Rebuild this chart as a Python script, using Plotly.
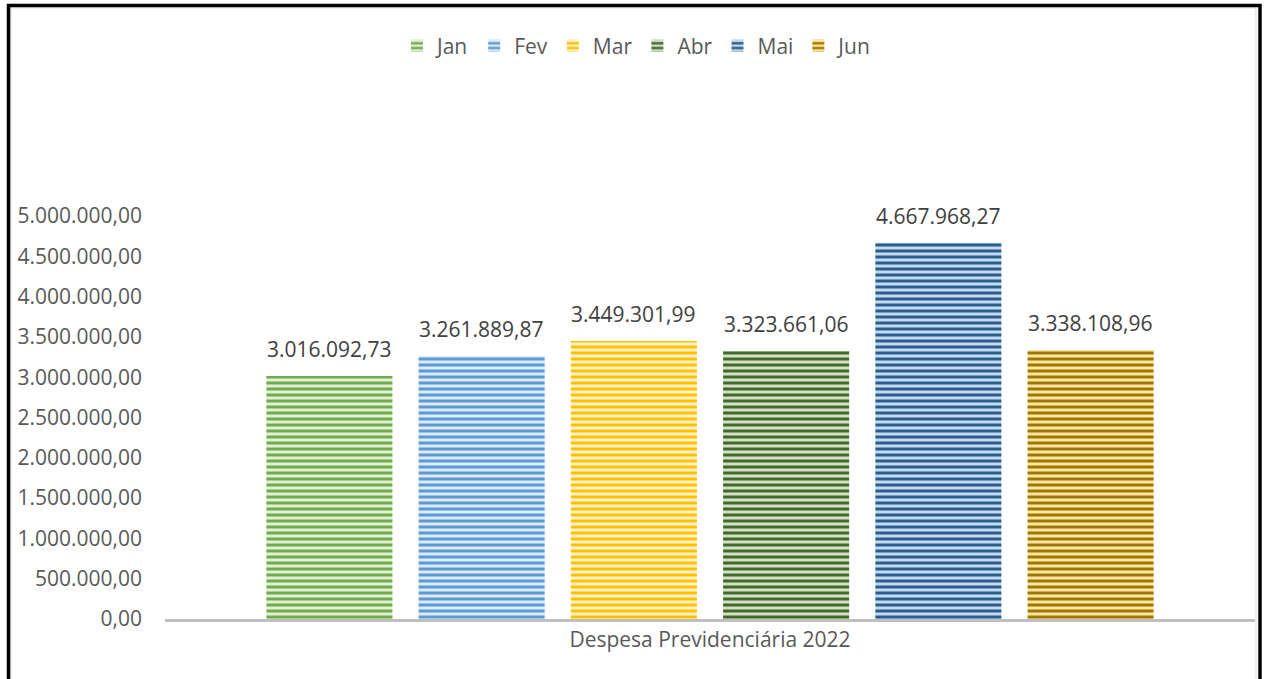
import plotly.graph_objects as go

category = ["Despesa Previdenciária 2022"]
months = ["Jan", "Fev", "Mar", "Abr", "Mai", "Jun"]
values = [3016092.73, 3261889.87, 3449301.99, 3323661.06, 4667968.27, 3338108.96]
dark_colors = ["#70AD47", "#5B9BD5", "#FFC000", "#43682B", "#255E91", "#9E7700"]
light_colors = ["#E2EFDA", "#DDEBF7", "#FFF2CC", "#D3E2C6", "#C9DAEC", "#FFE7A3"]
y_ticks = [0, 500000, 1000000, 1500000, 2000000, 2500000, 3000000, 3500000, 4000000, 4500000, 5000000]

W, H = 1267, 679
L, R = 165, 1255          # plot area in px
T, B = 80, 619
y_top = 5000000 * (B - T) / (B - 216)
BARGAP, GROUPGAP = 0.162, 0.172
FONT = "Open Sans"
FS = 21

def px_x(p):
    return (p - L) / (R - L)

def px_y(p):
    return (B - p) / (B - T)

def br(v):
    return f"{v:,.2f}".replace(",", "X").replace(".", ",").replace("X", ".")

fig = go.Figure()
for m, v, dc, lc in zip(months, values, dark_colors, light_colors):
    fig.add_trace(go.Bar(
        name=m, x=category, y=[v],
        marker=dict(color=lc, line=dict(width=0),
                    pattern=dict(shape="-", fgcolor=dc, bgcolor=lc, fgopacity=1,
                                 size=6, solidity=0.5)),
    ))

# data labels above each bar (bar centres derived from the group layout)
n = len(months)
slot = (1 - BARGAP) / n
annotations = []
for i, v in enumerate(values):
    xc = -0.5 * (1 - BARGAP) + slot * (i + 0.5)
    annotations.append(dict(x=xc, y=v, xref="x", yref="y", text=br(v),
                            showarrow=False, yanchor="bottom", yshift=11,
                            font=dict(family=FONT, size=FS, color="#404040")))

fig.update_layout(
    width=W, height=H,
    margin=dict(l=L, r=W - R, t=T, b=H - B),
    separators=",.",
    paper_bgcolor="white", plot_bgcolor="white",
    barmode="group", bargap=BARGAP, bargroupgap=GROUPGAP,
    font=dict(family=FONT, size=FS, color="#595959"),
    showlegend=True,
    legend=dict(orientation="h", x=px_x(637), xanchor="center", y=px_y(46), yanchor="middle",
                font=dict(size=FS, color="#595959"), itemwidth=30, bgcolor="rgba(0,0,0,0)"),
    xaxis=dict(range=[-0.5, 0.5], showline=True, linecolor="#BFBFBF", linewidth=3,
               showgrid=False, ticks="", tickfont=dict(size=FS, color="#595959")),
    yaxis=dict(range=[0, y_top], tickvals=y_ticks, tickformat=",.2f", showgrid=False,
               zeroline=False, showline=False, ticks="", ticklabelstandoff=22,
               tickfont=dict(size=FS, color="#595959")),
    annotations=annotations,
    shapes=[
        dict(type="rect", xref="paper", yref="paper",
             x0=px_x(11), x1=px_x(1256), y0=px_y(700), y1=px_y(8),
             line=dict(color="#D9D9D9", width=1), layer="below"),
        dict(type="rect", xref="paper", yref="paper",
             x0=px_x(8.5), x1=px_x(1260), y0=px_y(700), y1=px_y(5.5),
             line=dict(color="black", width=3.5), layer="above"),
    ],
)

fig.write_html("out.html", config={"displayModeBar": False},
               post_script="document.body.style.margin='0';document.body.style.overflow='hidden';")
